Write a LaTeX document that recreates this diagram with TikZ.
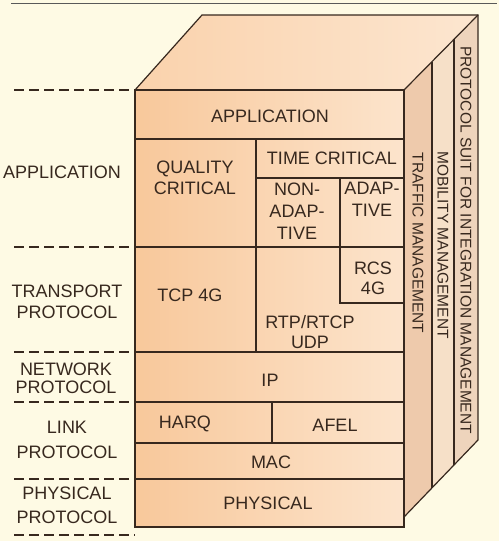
\documentclass[tikz,border=0pt]{standalone}
\usepackage{fontspec}
\setmainfont{Liberation Sans}
\definecolor{bg}{RGB}{254,250,228}
\definecolor{frontL}{RGB}{248,200,155}
\definecolor{frontR}{RGB}{252,228,204}
\definecolor{topL}{RGB}{250,210,172}
\definecolor{topR}{RGB}{252,230,208}
\definecolor{sA}{RGB}{238,202,172}
\definecolor{sB}{RGB}{246,224,200}
\definecolor{sC}{RGB}{238,212,188}
\definecolor{ink}{RGB}{55,40,30}
\begin{document}
\begin{tikzpicture}[x=1pt,y=-1pt,
  edge/.style={draw=ink,line width=1.2pt},
  thickedge/.style={draw=ink,line width=2.4pt},
  guide/.style={draw=ink,line width=1.2pt,dash pattern=on 10pt off 5pt},
  thickguide/.style={draw=ink,line width=2.4pt,dash pattern=on 10pt off 5pt},
  lbl/.style={font=\fontsize{18}{21}\selectfont,align=center,text=ink,inner sep=0pt},
  side/.style={font=\fontsize{15.5}{18}\selectfont,text=ink,inner sep=0pt,rotate=-90}]
\useasboundingbox (0,0) rectangle (499,541);
\fill[bg] (0,0) rectangle (499,541);
\draw[gray!70!black,line width=1pt] (11,3) -- (497,3);

% coordinates of the box
\coordinate (FTL) at (135,90);
\coordinate (FTR) at (404,90);
\coordinate (FBL) at (135,527);
\coordinate (FBR) at (404,527);
\coordinate (BTL) at (202,15);
\coordinate (BTR) at (478,15);
\coordinate (BBR) at (478,440);
\coordinate (SBF) at (404,517);
\coordinate (D1T) at (432,61.6);
\coordinate (D1B) at (432,487.9);
\coordinate (D2T) at (454,39.3);
\coordinate (D2B) at (454,465);

% fills
\shade[left color=topL,right color=topR] (FTL) -- (BTL) -- (BTR) -- (FTR) -- cycle;
\shade[left color=frontL,right color=frontR] (FTL) rectangle (FBR);
\fill[sA] (FTR) -- (D1T) -- (D1B) -- (SBF) -- cycle;
\fill[sB] (D1T) -- (D2T) -- (D2B) -- (D1B) -- cycle;
\fill[sC] (D2T) -- (BTR) -- (BBR) -- (D2B) -- cycle;

% outlines
\draw[edge] (FTL) -- (BTL) -- (BTR) -- (BBR) -- (SBF);
\draw[edge] (FTR) -- (BTR);
\draw[edge] (D1T) -- (D1B);
\draw[edge] (D2T) -- (D2B);
\draw[edge] (FTL) rectangle (FBR);

% inner grid of front face
\draw[edge] (135,139) -- (404,139);
\draw[edge] (256,139) -- (256,352);
\draw[edge] (256,178) -- (404,178);
\draw[edge] (340,178) -- (340,303) -- (404,303);
\draw[edge] (135,247) -- (404,247);
\draw[edge] (135,352) -- (404,352);
\draw[thickedge] (135,402) -- (404,402);
\draw[edge] (272,402) -- (272,443);
\draw[edge] (135,443) -- (404,443);
\draw[edge] (135,479) -- (404,479);

% left guides
\draw[guide] (14,90) -- (135,90);
\draw[guide] (14,247) -- (135,247);
\draw[guide] (14,352) -- (135,352);
\draw[thickguide] (14,402) -- (135,402);
\draw[guide] (14,479) -- (135,479);
\draw[guide] (14,535) -- (135,535);

% front labels
\node[lbl] (topapp) at (270,116) {APPLICATION};
\node[lbl] (qc) at (195,178) {QUALITY\\CRITICAL};
\node[lbl] (tc) at (332,158) {TIME CRITICAL};
\node[lbl,font=\fontsize{18}{22}\selectfont] (nonad) at (297,211) {NON-\\ADAP-\\TIVE};
\node[lbl,font=\fontsize{18}{22}\selectfont] (adap) at (372,199) {ADAP-\\TIVE};
\node[lbl,font=\fontsize{18}{20}\selectfont] (rcs) at (373,278) {RCS\\4G};
\node[lbl,font=\fontsize{18}{20}\selectfont] (rtp) at (310,332) {RTP/RTCP\\UDP};
\node[lbl] (tcp) at (190,295) {TCP 4G};
\node[lbl] (ip) at (270,380) {IP};
\node[lbl] (harq) at (185,424) {HARQ};
\node[lbl] (afel) at (335,425) {AFEL};
\node[lbl] (mac) at (271,462) {MAC};
\node[lbl] (phys) at (268,503) {PHYSICAL};

% left labels
\node[lbl,anchor=east] (lapp) at (121,172) {APPLICATION};
\node[lbl] (ltrans) at (67,302) {TRANSPORT\\PROTOCOL};
\node[lbl,font=\fontsize{18}{18}\selectfont] (lnet) at (66,378) {NETWORK\\PROTOCOL};
\node[lbl,font=\fontsize{18}{25}\selectfont] (llink) at (67,440) {LINK\\PROTOCOL};
\node[lbl,font=\fontsize{18}{24}\selectfont] (lphys) at (67,505) {PHYSICAL\\PROTOCOL};

% side labels
\node[side] (traffic) at (418,243) {TRAFFIC MANAGEMENT};
\node[side] (mobility) at (443,245) {MOBILITY MANAGEMENT};
\node[side] (suit) at (466,240) {PROTOCOL SUIT FOR INTEGRATION MANAGEMENT};
\end{tikzpicture}
\end{document}
